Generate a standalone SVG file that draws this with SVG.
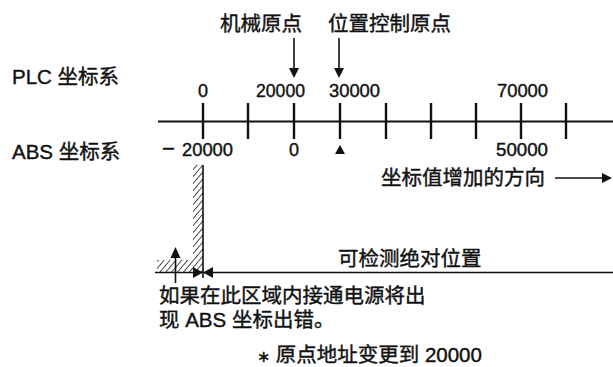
<svg xmlns="http://www.w3.org/2000/svg" width="613" height="367" viewBox="0 0 613 367">
<style>
text{font-family:"Liberation Sans","Noto Sans CJK SC",sans-serif;fill:#111;stroke:#111;stroke-width:0.4}
.cj{font-size:20.5px}
.num{font-size:18px}
.ln{stroke:#111;stroke-width:2.2;fill:none}
.tk{stroke:#111;stroke-width:2.4}
.thin{stroke:#111;stroke-width:1.6;fill:none}
.hd{fill:#111}
</style>
<defs>
<pattern id="hatch" width="4.5" height="4.5" patternUnits="userSpaceOnUse" patternTransform="rotate(40)">
<line x1="0" y1="0" x2="0" y2="4.5" stroke="#111" stroke-width="1.5"/>
</pattern>
</defs>
<g id="labels-left">
<text class="cj" x="12" y="84">PLC 坐标系</text>
<text class="cj" x="12" y="159">ABS 坐标系</text>
</g>
<g id="top-labels">
<text class="cj" x="220" y="31">机械原点</text>
<text class="cj" x="328" y="31">位置控制原点</text>
</g>
<g id="axis">
<line class="ln" x1="158" y1="121.5" x2="613" y2="121.5"/>
<g class="tk">
<line x1="203" y1="103" x2="203" y2="139"/>
<line x1="248" y1="103" x2="248" y2="139"/>
<line x1="294" y1="103" x2="294" y2="139"/>
<line x1="340" y1="103" x2="340" y2="139"/>
<line x1="386" y1="103" x2="386" y2="139"/>
<line x1="431" y1="103" x2="431" y2="139"/>
<line x1="476" y1="103" x2="476" y2="139"/>
<line x1="521" y1="103" x2="521" y2="139"/>
<line x1="566" y1="103" x2="566" y2="139"/>
</g>
<g class="num">
<text x="203" y="97" text-anchor="middle">0</text>
<text x="256" y="97" textLength="49" lengthAdjust="spacingAndGlyphs">20000</text>
<text x="329" y="97" textLength="51" lengthAdjust="spacingAndGlyphs">30000</text>
<text x="497" y="97" textLength="51" lengthAdjust="spacingAndGlyphs">70000</text>
<text x="162" y="156" font-size="22">−</text>
<text x="182" y="156" textLength="51" lengthAdjust="spacingAndGlyphs">20000</text>
<text x="294" y="156" text-anchor="middle">0</text>
<text x="496" y="156" textLength="52" lengthAdjust="spacingAndGlyphs">50000</text>
</g>
<polygon class="hd" points="340,145 345,154 335,154"/>
</g>
<g id="connectors">
<line class="thin" x1="294" y1="38" x2="294" y2="70"/>
<polygon class="hd" points="289,68 299,68 294,78"/>
<line class="thin" x1="339" y1="38" x2="339" y2="70"/>
<polygon class="hd" points="334,68 344,68 339,78"/>
<line class="thin" x1="555" y1="178" x2="604" y2="178"/>
<polygon class="hd" points="602,173 612,178 602,183"/>
</g>
<g id="direction-label">
<text class="cj" x="381" y="185">坐标值增加的方向</text>
</g>
<g id="error-zone">
<rect x="193" y="165" width="10" height="107" fill="url(#hatch)"/>
<rect x="157" y="260" width="36" height="12" fill="url(#hatch)"/>
<line class="thin" x1="203" y1="165" x2="203" y2="278"/>
<line class="thin" x1="155" y1="272.5" x2="613" y2="272.5"/>
<line class="thin" x1="175.5" y1="255" x2="175.5" y2="283"/>
<polygon class="hd" points="175.5,247 180.5,258 170.5,258"/>
<polygon class="hd" points="193,267 203,272.5 193,278"/>
<polygon class="hd" points="213,267 203,272.5 213,278"/>
</g>
<g id="detect-label">
<text class="cj" x="338" y="266">可检测绝对位置</text>
</g>
<g id="notes">
<text class="cj" x="159" y="303">如果在此区域内接通电源将出</text>
<text class="cj" x="159" y="327">现 ABS 坐标出错。</text>
<text class="cj" x="257" y="362"><tspan font-size="16">∗</tspan> 原点地址变更到 20000</text>
</g>
</svg>
